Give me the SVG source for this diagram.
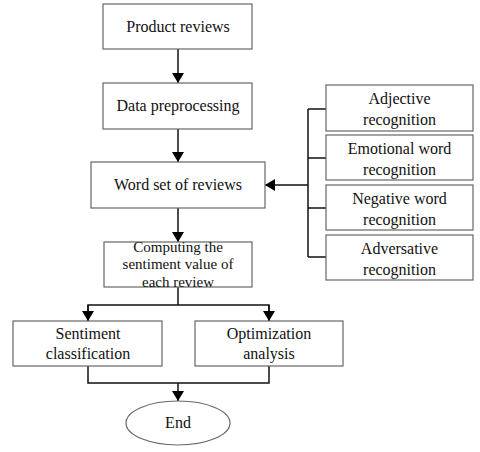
<svg xmlns="http://www.w3.org/2000/svg" width="480" height="452" viewBox="0 0 480 452">
<defs>
<marker id="ah" markerWidth="10" markerHeight="12" refX="10" refY="6" orient="auto" markerUnits="userSpaceOnUse">
<path d="M0,0 L10,6 L0,12 Z" fill="#000"/>
</marker>
<style>
.box{fill:#fff;stroke:#666;stroke-width:1.2}
.t{font-family:"Liberation Serif","Times New Roman",serif;font-size:16px;fill:#111;text-anchor:middle}
.s{font-size:15px}
.c{fill:none;stroke:#111;stroke-width:1.5}
</style>
</defs>
<rect width="480" height="452" fill="#fff"/>
<g id="connectors">
<line class="c" x1="178" y1="49" x2="178" y2="83" marker-end="url(#ah)"/>
<line class="c" x1="178" y1="129" x2="178" y2="162" marker-end="url(#ah)"/>
<line class="c" x1="178" y1="208" x2="178" y2="242" marker-end="url(#ah)"/>
<polyline class="c" points="308,109 308,257"/>
<line class="c" x1="308" y1="109" x2="326" y2="109"/>
<line class="c" x1="308" y1="158" x2="326" y2="158"/>
<line class="c" x1="308" y1="208" x2="326" y2="208"/>
<line class="c" x1="308" y1="257" x2="326" y2="257"/>
<line class="c" x1="308" y1="185" x2="265" y2="185" marker-end="url(#ah)"/>
<line class="c" x1="178" y1="287" x2="178" y2="305"/>
<polyline class="c" points="88,321 88,305 269,305 269,321" fill="none"/>
<line class="c" x1="88" y1="305" x2="88" y2="321" marker-end="url(#ah)"/>
<line class="c" x1="269" y1="305" x2="269" y2="321" marker-end="url(#ah)"/>
<polyline class="c" points="88,366 88,383 269,383 269,366"/>
<line class="c" x1="178" y1="383" x2="178" y2="401" marker-end="url(#ah)"/>
</g>
<g id="n1"><rect class="box" x="103" y="4" width="149" height="45"/><text class="t" x="178" y="32">Product reviews</text></g>
<g id="n2"><rect class="box" x="103" y="83" width="149" height="46"/><text class="t" x="178" y="111">Data preprocessing</text></g>
<g id="n3"><rect class="box" x="91" y="162" width="174" height="46"/><text class="t" x="178" y="190">Word set of reviews</text></g>
<g id="n4"><rect class="box" x="104" y="242" width="148" height="45"/>
<text class="t s" x="178" y="252">Computing the</text>
<text class="t s" x="178" y="269">sentiment value of</text>
<text class="t s" x="178" y="287">each review</text></g>
<g id="r1"><rect class="box" x="326" y="85" width="147" height="46"/><text class="t" x="399.5" y="104">Adjective</text><text class="t" x="399.5" y="125">recognition</text></g>
<g id="r2"><rect class="box" x="326" y="135" width="147" height="45"/><text class="t" x="399.5" y="154">Emotional word</text><text class="t" x="399.5" y="175">recognition</text></g>
<g id="r3"><rect class="box" x="326" y="185" width="147" height="45"/><text class="t" x="399.5" y="204">Negative word</text><text class="t" x="399.5" y="225">recognition</text></g>
<g id="r4"><rect class="box" x="326" y="235" width="147" height="45"/><text class="t" x="399.5" y="254">Adversative</text><text class="t" x="399.5" y="275">recognition</text></g>
<g id="n5"><rect class="box" x="13" y="321" width="149" height="45"/><text class="t" x="88" y="339">Sentiment</text><text class="t" x="88" y="359">classification</text></g>
<g id="n6"><rect class="box" x="195" y="321" width="148" height="45"/><text class="t" x="269" y="339">Optimization</text><text class="t" x="269" y="359">analysis</text></g>
<g id="end"><ellipse class="box" cx="178" cy="423" rx="52" ry="22"/><text class="t" x="178" y="428">End</text></g>
</svg>
